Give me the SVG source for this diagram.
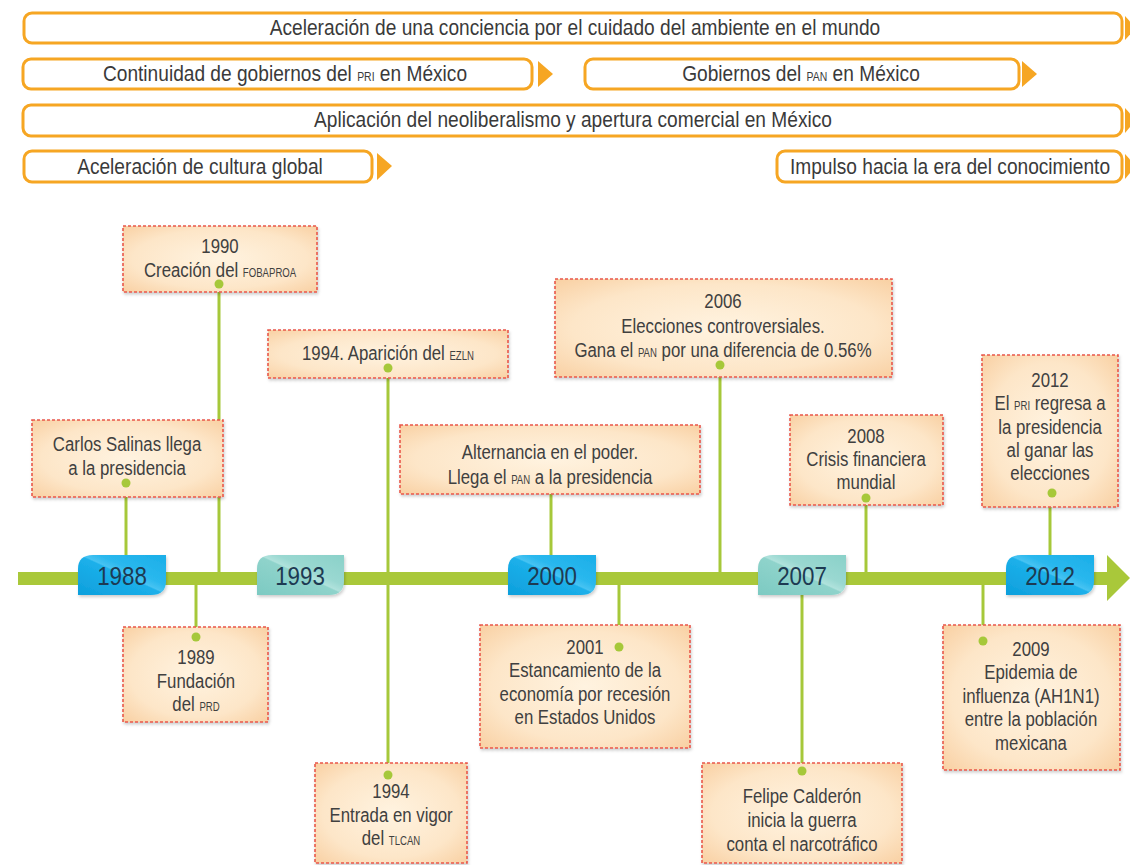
<svg xmlns="http://www.w3.org/2000/svg" width="1130" height="865" viewBox="0 0 1130 865">
<style>
.bar{fill:#fff;stroke:#f6a623;stroke-width:3}
.arr{fill:#f6a623}
.bt{font-family:"Liberation Sans",Arial,sans-serif;font-size:22px;fill:#3a3a3a;text-anchor:middle;transform-box:fill-box;transform-origin:center;transform:scaleX(0.87)}
.sc{font-size:12px}
.box{fill:url(#peach);stroke:#e9574a;stroke-width:1.6;stroke-dasharray:3 2;filter:url(#sh)}
.et{font-family:"Liberation Sans",Arial,sans-serif;font-size:21px;fill:#404040;text-anchor:middle;transform-box:fill-box;transform-origin:center;transform:scaleX(0.8)}
.yr{font-family:"Liberation Sans",Arial,sans-serif;font-size:26px;fill:#1d3a52;text-anchor:middle;transform-box:fill-box;transform-origin:center;transform:scaleX(0.86)}
.ln{stroke:#a6c83a;stroke-width:3;fill:none}
.dot{fill:#a6c83a}
.blue{fill:url(#bg);filter:url(#sh)}
.teal{fill:url(#tg);filter:url(#sh)}
</style>
<defs>
<radialGradient id="peach" cx="0.5" cy="0.5" r="0.75">
<stop offset="0" stop-color="#fff3e0"/>
<stop offset="0.6" stop-color="#fde6c8"/>
<stop offset="1" stop-color="#f8cc9c"/>
</radialGradient>
<linearGradient id="bg" x1="0" y1="1" x2="1" y2="0">
<stop offset="0" stop-color="#0d9fdc"/>
<stop offset="0.5" stop-color="#1cb0ea"/>
<stop offset="0.52" stop-color="#47c3f2"/>
<stop offset="0.62" stop-color="#2ab8ee"/>
<stop offset="1" stop-color="#1aaee8"/>
</linearGradient>
<linearGradient id="tg" x1="0" y1="1" x2="1" y2="0">
<stop offset="0" stop-color="#7ccac2"/>
<stop offset="0.5" stop-color="#8fd3cb"/>
<stop offset="0.52" stop-color="#b0e2dc"/>
<stop offset="0.62" stop-color="#9ad8d1"/>
<stop offset="1" stop-color="#8ad1c9"/>
</linearGradient>
<filter id="sh" x="-10%" y="-10%" width="125%" height="130%">
<feDropShadow dx="1" dy="2" stdDeviation="1.5" flood-color="#000" flood-opacity="0.2"/>
</filter>
</defs>
<rect width="1130" height="865" fill="#fff"/>

<g id="bars">
<g id="bar-ambiente">
<rect class="bar" x="24" y="13" width="1098" height="30" rx="8"/>
<polygon class="arr" points="1125,16 1136,28 1125,40"/>
<text class="bt" x="575" y="35">Aceleración de una conciencia por el cuidado del ambiente en el mundo</text>
</g>
<g id="bar-pri">
<rect class="bar" x="23" y="59" width="509" height="30" rx="8"/>
<polygon class="arr" points="538,61 553,74 538,87"/>
<text class="bt" x="285" y="81">Continuidad de gobiernos del <tspan class="sc">PRI</tspan> en México</text>
</g>
<g id="bar-pan">
<rect class="bar" x="585" y="59" width="434" height="30" rx="8"/>
<polygon class="arr" points="1022,61 1037,74 1022,87"/>
<text class="bt" x="801" y="81">Gobiernos del <tspan class="sc">PAN</tspan> en México</text>
</g>
<g id="bar-neoliberalismo">
<rect class="bar" x="23" y="105" width="1099" height="31" rx="8"/>
<polygon class="arr" points="1125,108 1136,120 1125,133"/>
<text class="bt" x="573" y="127">Aplicación del neoliberalismo y apertura comercial en México</text>
</g>
<g id="bar-cultura">
<rect class="bar" x="24" y="151" width="348" height="31" rx="8"/>
<polygon class="arr" points="377,153 392,166 377,180"/>
<text class="bt" x="200" y="174">Aceleración de cultura global</text>
</g>
<g id="bar-conocimiento">
<rect class="bar" x="777" y="151" width="345" height="31" rx="8"/>
<polygon class="arr" points="1125,154 1136,166 1125,179"/>
<text class="bt" x="950" y="174">Impulso hacia la era del conocimiento</text>
</g>
</g>

<g id="connectors">
<line class="ln" x1="126" y1="483" x2="126" y2="572"/>
<line class="ln" x1="219" y1="284" x2="219" y2="578"/>
<line class="ln" x1="196" y1="580" x2="196" y2="637"/>
<line class="ln" x1="388" y1="368" x2="388" y2="775"/>
<line class="ln" x1="551" y1="492" x2="551" y2="565"/>
<line class="ln" x1="720" y1="365" x2="720" y2="578"/>
<line class="ln" x1="619" y1="580" x2="619" y2="647"/>
<line class="ln" x1="866" y1="498" x2="866" y2="578"/>
<line class="ln" x1="802" y1="585" x2="802" y2="771"/>
<line class="ln" x1="983" y1="580" x2="983" y2="641"/>
<line class="ln" x1="1050" y1="493" x2="1050" y2="565"/>
</g>

<g id="timeline">
<rect x="18" y="572" width="1092" height="13" fill="#a9c83a"/>
<polygon points="1107,555 1130,578 1107,601" fill="#a9c83a"/>
</g>

<g id="y1988"><path class="blue" d="M78,595 L78,569 Q78,555 93,555 L166,555 L166,581 Q166,595 151,595 Z"/><text class="yr" x="122" y="585">1988</text></g>
<g id="y1993"><path class="teal" d="M257,595 L257,569 Q257,555 272,555 L344,555 L344,581 Q344,595 329,595 Z"/><text class="yr" x="300" y="585">1993</text></g>
<g id="y2000"><path class="blue" d="M508,595 L508,569 Q508,555 523,555 L596,555 L596,581 Q596,595 581,595 Z"/><text class="yr" x="552" y="585">2000</text></g>
<g id="y2007"><path class="teal" d="M758,595 L758,569 Q758,555 773,555 L846,555 L846,581 Q846,595 831,595 Z"/><text class="yr" x="802" y="585">2007</text></g>
<g id="y2012"><path class="blue" d="M1006,595 L1006,569 Q1006,555 1021,555 L1094,555 L1094,581 Q1094,595 1079,595 Z"/><text class="yr" x="1050" y="585">2012</text></g>

<g id="e-salinas">
<rect class="box" x="32" y="420" width="191" height="77"/>
<text class="et" x="127" y="451">Carlos Salinas llega</text>
<text class="et" x="127" y="475">a la presidencia</text>
<circle class="dot" cx="126" cy="483" r="4.5"/>
</g>
<g id="e-1990">
<rect class="box" x="123" y="226" width="194" height="66"/>
<text class="et" x="220" y="253">1990</text>
<text class="et" x="220" y="277">Creación del <tspan class="sc">FOBAPROA</tspan></text>
<circle class="dot" cx="219" cy="284" r="4.5"/>
</g>
<g id="e-1989">
<rect class="box" x="123" y="627" width="145" height="95"/>
<text class="et" x="196" y="664">1989</text>
<text class="et" x="196" y="688">Fundación</text>
<text class="et" x="196" y="711">del <tspan class="sc">PRD</tspan></text>
<circle class="dot" cx="196" cy="637" r="4.5"/>
</g>
<g id="e-ezln">
<rect class="box" x="268" y="330" width="240" height="48"/>
<text class="et" x="388" y="360">1994. Aparición del <tspan class="sc">EZLN</tspan></text>
<circle class="dot" cx="388" cy="368" r="4.5"/>
</g>
<g id="e-tlcan">
<rect class="box" x="315" y="763" width="152" height="100"/>
<text class="et" x="391" y="798">1994</text>
<text class="et" x="391" y="822">Entrada en vigor</text>
<text class="et" x="391" y="845">del <tspan class="sc">TLCAN</tspan></text>
<circle class="dot" cx="388" cy="775" r="4.5"/>
</g>
<g id="e-alternancia">
<rect class="box" x="400" y="425" width="300" height="69"/>
<text class="et" x="550" y="459">Alternancia en el poder.</text>
<text class="et" x="550" y="484">Llega el <tspan class="sc">PAN</tspan> a la presidencia</text>
</g>
<g id="e-2006">
<rect class="box" x="555" y="279" width="337" height="98"/>
<text class="et" x="723" y="308">2006</text>
<text class="et" x="723" y="333">Elecciones controversiales.</text>
<text class="et" x="723" y="357">Gana el <tspan class="sc">PAN</tspan> por una diferencia de 0.56%</text>
<circle class="dot" cx="720" cy="365" r="4.5"/>
</g>
<g id="e-2001">
<rect class="box" x="480" y="625" width="210" height="123"/>
<text class="et" x="585" y="654">2001</text>
<text class="et" x="585" y="677">Estancamiento de la</text>
<text class="et" x="585" y="701">economía por recesión</text>
<text class="et" x="585" y="724">en Estados Unidos</text>
<circle class="dot" cx="619" cy="647" r="4.5"/>
</g>
<g id="e-2008">
<rect class="box" x="790" y="415" width="153" height="90"/>
<text class="et" x="866" y="443">2008</text>
<text class="et" x="866" y="466">Crisis financiera</text>
<text class="et" x="866" y="489">mundial</text>
<circle class="dot" cx="866" cy="498" r="4.5"/>
</g>
<g id="e-calderon">
<rect class="box" x="702" y="763" width="200" height="100"/>
<text class="et" x="802" y="803">Felipe Calderón</text>
<text class="et" x="802" y="827">inicia la guerra</text>
<text class="et" x="802" y="851">conta el narcotráfico</text>
<circle class="dot" cx="802" cy="771" r="4.5"/>
</g>
<g id="e-2009">
<rect class="box" x="943" y="625" width="177" height="145"/>
<text class="et" x="1031" y="656">2009</text>
<text class="et" x="1031" y="679">Epidemia de</text>
<text class="et" x="1031" y="703">influenza (AH1N1)</text>
<text class="et" x="1031" y="726">entre la población</text>
<text class="et" x="1031" y="750">mexicana</text>
<circle class="dot" cx="983" cy="641" r="4.5"/>
</g>
<g id="e-2012">
<rect class="box" x="982" y="355" width="136" height="152"/>
<text class="et" x="1050" y="387">2012</text>
<text class="et" x="1050" y="410">El <tspan class="sc">PRI</tspan> regresa a</text>
<text class="et" x="1050" y="434">la presidencia</text>
<text class="et" x="1050" y="457">al ganar las</text>
<text class="et" x="1050" y="480">elecciones</text>
<circle class="dot" cx="1052" cy="493" r="4.5"/>
</g>
</svg>
